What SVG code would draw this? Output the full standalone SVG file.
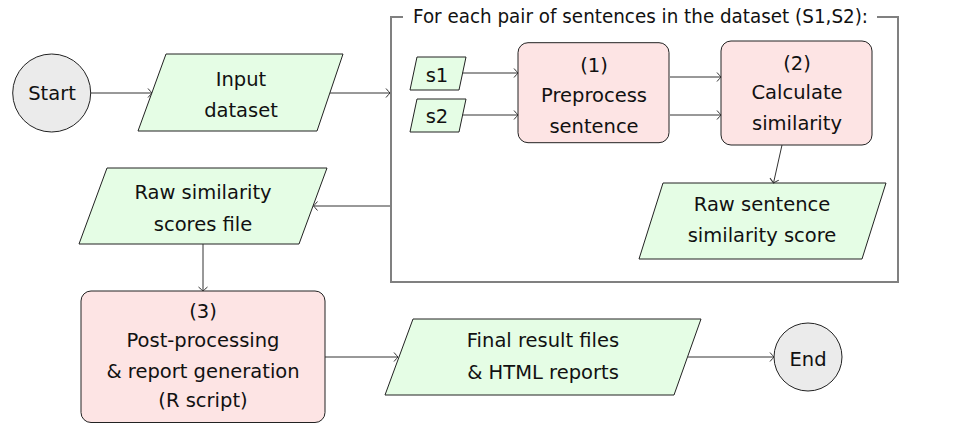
<svg xmlns="http://www.w3.org/2000/svg" width="964" height="424" viewBox="0 0 964 424">
<style>
  text { font-family: "DejaVu Sans", "Liberation Sans", sans-serif; font-size: 19.5px; fill: #111; text-anchor: middle; }
  .io { fill: #e5fde5; stroke: #222; stroke-width: 1; }
  .proc { fill: #fde4e4; stroke: #222; stroke-width: 1; }
  .term { fill: #ebebeb; stroke: #222; stroke-width: 1; }
  .frame { fill: none; stroke: #808080; stroke-width: 2; }
  .edge { fill: none; stroke: #333; stroke-width: 1; marker-end: url(#arr); }
</style>
<defs>
  <marker id="arr" viewBox="-6 -6 8 12" refX="0" refY="0" markerWidth="8" markerHeight="12" markerUnits="userSpaceOnUse" orient="auto">
    <path d="M-4,-4.5 Q-1,-1 0,0 Q-1,1 -4,4.5" fill="none" stroke="#333" stroke-width="1"/>
  </marker>
</defs>
<rect width="964" height="424" fill="#fff"/>

<g id="loop-frame">
  <path class="frame" d="M403,17 L391,17 L391,282 L898,282 L898,17 L877,17"/>
  <text x="640.5" y="23" textLength="455" lengthAdjust="spacingAndGlyphs">For each pair of sentences in the dataset (S1,S2):</text>
</g>

<g id="start">
  <circle class="term" cx="51.7" cy="93" r="39"/>
  <text x="52" y="100">Start</text>
</g>

<g id="input-dataset">
  <polygon class="io" points="166,54 343,54 317,131 138,131"/>
  <text x="241" y="86">Input</text>
  <text x="241" y="117">dataset</text>
</g>

<g id="s1">
  <polygon class="io" points="417,57 466,57 459,90 410,90"/>
  <text x="437" y="82">s1</text>
</g>

<g id="s2">
  <polygon class="io" points="417,99 466,99 459,132 410,132"/>
  <text x="437" y="123">s2</text>
</g>

<g id="preprocess">
  <rect class="proc" x="518" y="42.7" width="151" height="100" rx="10"/>
  <text x="594" y="72">(1)</text>
  <text x="594" y="102">Preprocess</text>
  <text x="594" y="133">sentence</text>
</g>

<g id="calculate">
  <rect class="proc" x="721" y="41" width="151" height="104" rx="10"/>
  <text x="797" y="70">(2)</text>
  <text x="797" y="99">Calculate</text>
  <text x="797" y="130">similarity</text>
</g>

<g id="raw-sentence-score">
  <polygon class="io" points="663,183 886,183 862,259 639,259"/>
  <text x="762" y="211">Raw sentence</text>
  <text x="762" y="242">similarity score</text>
</g>

<g id="raw-scores-file">
  <polygon class="io" points="107,168 327,168 299,244 79,244"/>
  <text x="203" y="199">Raw similarity</text>
  <text x="203" y="231">scores file</text>
</g>

<g id="postprocess">
  <rect class="proc" x="81" y="291" width="244" height="131.5" rx="10"/>
  <text x="203" y="318">(3)</text>
  <text x="203" y="347">Post-processing</text>
  <text x="203" y="378">&amp; report generation</text>
  <text x="203" y="407">(R script)</text>
</g>

<g id="final-results">
  <polygon class="io" points="413,319 701,319 674,395 385,395"/>
  <text x="543" y="347">Final result files</text>
  <text x="543" y="379">&amp; HTML reports</text>
</g>

<g id="end">
  <circle class="term" cx="808" cy="357" r="34"/>
  <text x="808" y="366">End</text>
</g>

<g id="connectors">
  <path class="edge" d="M91,93 L152,93"/>
  <path class="edge" d="M330,93 L390,93"/>
  <path class="edge" d="M462,73 L518,73"/>
  <path class="edge" d="M462,115 L518,115"/>
  <path class="edge" d="M670,77 L721,77"/>
  <path class="edge" d="M670,115 L721,115"/>
  <path class="edge" d="M782,145 L773.5,183"/>
  <path class="edge" d="M390,206 L313.5,206"/>
  <path class="edge" d="M203,244 L203,291"/>
  <path class="edge" d="M325,357 L398,357"/>
  <path class="edge" d="M688,357 L774,357"/>
</g>
</svg>
